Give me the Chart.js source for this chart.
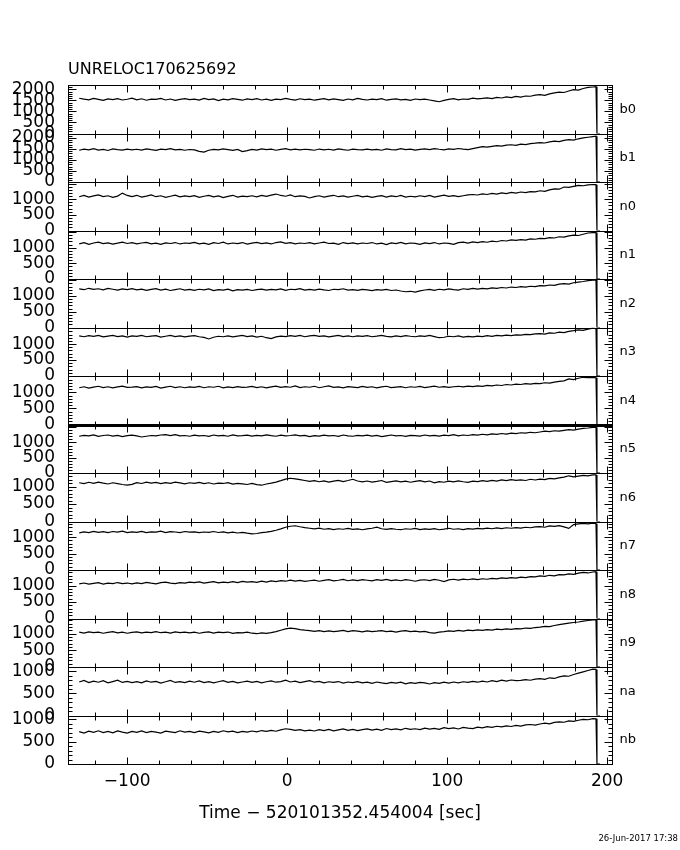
<!DOCTYPE html>
<html>
<head>
<meta charset="utf-8">
<script src="https://cdn.jsdelivr.net/npm/chart.js@4.4.0/dist/chart.umd.min.js"></script>
<style>
  html, body { margin: 0; padding: 0; background: #fff; }
  canvas { display: block; }
</style>
</head>
<body>
<canvas id="lightCurves" width="680" height="850"></canvas>
<script>
const title = "UNRELOC170625692";
const xTitle = "Time \u2212 520101352.454004 [sec]";
const stamp = "26-Jun-2017 17:38";

const detectors = ["b0", "b1", "n0", "n1", "n2", "n3", "n4", "n5", "n6", "n7", "n8", "n9", "na", "nb"];

// bin centres [sec]
const time = [
  -130, -127, -124, -121, -118, -115, -112, -109, -106, -103, -100, -97,
  -94, -91, -88, -85, -82, -79, -76, -73, -70, -67, -64, -61,
  -58, -55, -52, -49, -46, -43, -40, -37, -34, -31, -28, -25,
  -22, -19, -16, -13, -10, -7, -4, -1, 2, 5, 8, 11,
  14, 17, 20, 23, 26, 29, 32, 35, 38, 41, 44, 47,
  50, 53, 56, 59, 62, 65, 68, 71, 74, 77, 80, 83,
  86, 89, 92, 95, 98, 101, 104, 107, 110, 113, 116, 119,
  122, 125, 128, 131, 134, 137, 140, 143, 146, 149, 152, 155,
  158, 161, 164, 167, 170, 173, 176, 179, 182, 185, 188, 191,
  193, 193.6, 195.5
];

const b0 = [
  1600, 1560, 1530, 1590, 1550, 1500, 1570, 1540, 1585, 1520, 1555, 1600,
  1530, 1575, 1510, 1560, 1545, 1590, 1520, 1565, 1500, 1550, 1580, 1535,
  1560, 1515, 1590, 1540, 1570, 1495, 1555, 1525, 1580, 1545, 1510, 1570,
  1540, 1585, 1520, 1555, 1500, 1560, 1535, 1590, 1550, 1515, 1575, 1540,
  1560, 1510, 1545, 1580, 1525, 1570, 1540, 1500, 1565, 1530, 1590, 1545,
  1520, 1560, 1535, 1580, 1510, 1550, 1570, 1525, 1545, 1505, 1565, 1540,
  1555, 1520, 1480, 1440, 1500, 1545, 1580, 1530, 1565, 1550, 1600, 1570,
  1590, 1620, 1580, 1640, 1610, 1660, 1630, 1680, 1650, 1700, 1690, 1740,
  1760, 1730, 1800, 1840, 1880, 1860, 1930, 1990, 1970, 2040, 2090, 2110,
  2120, 0, 0
];
const b1 = [
  1440, 1490, 1460, 1510, 1450, 1480, 1430, 1500, 1470, 1445, 1495, 1460,
  1485, 1450, 1500, 1465, 1435, 1490, 1470, 1515, 1455, 1480, 1440, 1475,
  1460, 1390, 1360, 1440, 1480, 1455, 1500, 1470, 1435, 1480, 1380, 1420,
  1475, 1450, 1500, 1465, 1490, 1440, 1480, 1510, 1460, 1495, 1455, 1485,
  1470, 1440, 1495, 1460, 1485, 1450, 1505, 1465, 1440, 1490, 1470, 1455,
  1495, 1460, 1480, 1440, 1500, 1470, 1455, 1510, 1465, 1490, 1445, 1480,
  1500, 1470, 1515, 1485, 1460, 1505, 1480, 1520, 1490, 1465, 1510, 1560,
  1600, 1580, 1620, 1650, 1630, 1670, 1690, 1660, 1720, 1700, 1740, 1760,
  1790, 1770, 1820, 1850, 1830, 1890, 1920, 1900, 1960, 2000, 2030, 2060,
  2080, 0, 0
];
const n0 = [
  1080, 1120, 1070, 1105, 1135, 1085, 1110, 1060, 1100, 1195, 1120, 1085,
  1125, 1070, 1100, 1140, 1080, 1110, 1060, 1095, 1130, 1075, 1105, 1085,
  1115, 1060, 1095, 1120, 1075, 1105, 1050, 1090, 1125, 1070, 1100, 1080,
  1110, 1075, 1120, 1090, 1130, 1165, 1120, 1095, 1135, 1080, 1105, 1090,
  1040, 1085, 1110, 1070, 1100, 1125, 1080, 1105, 1065, 1095, 1120, 1075,
  1100, 1060, 1090, 1115, 1070, 1105, 1080, 1120, 1065, 1095, 1075, 1110,
  1085, 1120, 1070, 1100, 1130, 1090, 1115, 1080, 1110, 1140, 1150, 1135,
  1170, 1150, 1185, 1165, 1200, 1180, 1215, 1195, 1230, 1210, 1245, 1235,
  1270, 1250, 1300, 1330, 1320, 1390, 1380, 1410, 1440, 1430, 1460, 1470,
  1465, 0, 0
];
const n1 = [
  1125, 1160, 1110, 1150, 1175, 1130, 1155, 1115, 1145, 1180, 1135, 1160,
  1120, 1150, 1170, 1125, 1145, 1105, 1155, 1135, 1165, 1120, 1150, 1140,
  1170, 1125, 1145, 1110, 1160, 1135, 1175, 1120, 1150, 1130, 1165, 1115,
  1145, 1170, 1130, 1155, 1120, 1165, 1185, 1140, 1160, 1125, 1150, 1135,
  1160, 1120, 1150, 1175, 1135, 1145, 1110, 1165, 1130, 1155, 1125, 1150,
  1135, 1165, 1120, 1145, 1100, 1155, 1130, 1170, 1125, 1150, 1140, 1110,
  1155, 1130, 1165, 1120, 1150, 1140, 1105, 1160, 1180, 1150, 1185, 1165,
  1195, 1175, 1210, 1190, 1230, 1215, 1250, 1235, 1260, 1245, 1280, 1270,
  1300, 1290, 1325, 1310, 1350, 1340, 1380, 1400, 1390, 1430, 1470, 1485,
  1490, 0, 0
];
const n2 = [
  1225, 1200, 1245, 1210, 1230, 1195, 1240, 1215, 1185, 1225, 1205, 1235,
  1195, 1220, 1180, 1210, 1235, 1190, 1215, 1175, 1205, 1230, 1190, 1210,
  1180, 1215, 1195, 1225, 1170, 1205, 1190, 1215, 1165, 1200, 1185, 1210,
  1175, 1205, 1220, 1185, 1210, 1195, 1225, 1180, 1215, 1200, 1235, 1190,
  1210, 1185, 1220, 1195, 1175, 1215, 1200, 1230, 1185, 1205, 1180, 1210,
  1195, 1170, 1205, 1185, 1210, 1175, 1190, 1160, 1135, 1150, 1125, 1165,
  1190, 1210, 1180, 1215, 1195, 1225, 1200, 1185, 1230, 1210, 1245, 1220,
  1240, 1225, 1260, 1245, 1270, 1255, 1285, 1270, 1300, 1280, 1310, 1300,
  1330, 1320, 1350, 1340, 1375, 1395, 1380, 1420, 1440, 1460, 1490, 1505,
  1510, 0, 0
];
const n3 = [
  1255, 1230, 1265, 1240, 1275, 1225, 1250, 1270, 1235, 1260, 1220, 1255,
  1240, 1275, 1230, 1250, 1265, 1220, 1245, 1270, 1235, 1255, 1225, 1250,
  1265, 1230, 1210, 1160, 1215, 1245, 1230, 1260, 1225, 1250, 1270, 1235,
  1255, 1220, 1245, 1200, 1170, 1225, 1250, 1235, 1265, 1240, 1275, 1230,
  1255, 1270, 1240, 1260, 1225, 1250, 1275, 1235, 1260, 1230, 1255, 1245,
  1265, 1230, 1250, 1275, 1240, 1225, 1255, 1235, 1265, 1245, 1230, 1260,
  1240, 1270, 1235, 1200, 1215, 1245, 1230, 1255, 1220, 1240, 1225, 1250,
  1235, 1265, 1245, 1270, 1255, 1280, 1265, 1290, 1280, 1305, 1295, 1320,
  1330, 1315, 1350, 1340, 1375, 1360, 1400, 1420, 1445, 1430, 1470, 1500,
  1480, 0, 0
];
const n4 = [
  1145, 1175, 1135, 1165, 1190, 1150, 1175, 1140, 1170, 1195, 1155, 1165,
  1180, 1140, 1170, 1155, 1185, 1135, 1165, 1190, 1150, 1175, 1145, 1170,
  1155, 1185, 1145, 1175, 1160, 1190, 1140, 1170, 1150, 1180, 1155, 1165,
  1185, 1150, 1175, 1140, 1170, 1195, 1155, 1180, 1160, 1200, 1150, 1175,
  1160, 1190, 1145, 1175, 1200, 1155, 1170, 1140, 1180, 1165, 1150, 1185,
  1155, 1175, 1140, 1170, 1190, 1150, 1165, 1180, 1145, 1175, 1160, 1185,
  1150, 1170, 1195, 1160, 1180, 1155, 1175, 1190, 1170, 1195, 1180, 1205,
  1190, 1215, 1200, 1230, 1215, 1245, 1230, 1255, 1245, 1270, 1260, 1280,
  1275, 1300, 1290, 1320, 1340, 1360, 1420, 1400, 1440, 1470, 1460, 1465,
  1455, 0, 0
];
const n5 = [
  1205, 1235, 1215, 1250, 1200, 1230, 1245, 1210, 1235, 1195, 1225, 1240,
  1215, 1180, 1205, 1230, 1215, 1245, 1255, 1225, 1260, 1215, 1230, 1205,
  1240, 1215, 1230, 1200, 1245, 1220, 1235, 1205, 1250, 1215, 1225, 1240,
  1210, 1235, 1220, 1250, 1225, 1205, 1240, 1215, 1230, 1250, 1220, 1235,
  1190, 1225, 1210, 1240, 1215, 1230, 1200, 1245, 1220, 1205, 1235, 1215,
  1240, 1210, 1230, 1195, 1220, 1245, 1215, 1230, 1200, 1235, 1225, 1210,
  1245, 1220, 1235, 1210, 1240, 1225, 1255, 1215, 1245, 1230, 1260, 1240,
  1270, 1250, 1280, 1265, 1295, 1275, 1310, 1290, 1320, 1305, 1335, 1320,
  1345, 1370, 1355, 1385, 1370, 1400, 1420, 1405, 1440, 1460, 1475, 1495,
  1500, 0, 0
];
const n6 = [
  1110, 1085, 1125, 1095, 1130, 1100, 1075, 1110, 1085, 1060, 1040, 1065,
  1115, 1090, 1130, 1100, 1120, 1085, 1115, 1095, 1130, 1105, 1080, 1110,
  1095, 1120, 1085, 1110, 1075, 1100, 1090, 1115, 1070, 1095, 1080, 1060,
  1090, 1055, 1040, 1075, 1100, 1130, 1170, 1215, 1240, 1220, 1200, 1175,
  1150, 1170, 1140, 1165, 1130, 1155, 1180, 1145, 1175, 1210, 1160, 1135,
  1160, 1130, 1150, 1175, 1120, 1145, 1165, 1135, 1155, 1125, 1150, 1170,
  1135, 1160, 1110, 1145, 1125, 1155, 1135, 1165, 1140, 1120, 1155, 1145,
  1170, 1150, 1180, 1160, 1190, 1170, 1200, 1180, 1195, 1175, 1210, 1190,
  1215, 1200, 1235, 1220, 1250, 1270, 1310, 1280, 1300, 1320, 1310, 1335,
  1335, 0, 0
];
const n7 = [
  1130, 1160, 1140, 1175, 1145, 1165, 1135, 1170, 1150, 1180, 1140, 1160,
  1145, 1175, 1135, 1160, 1150, 1180, 1140, 1165, 1155, 1135, 1170, 1150,
  1160, 1135, 1155, 1145, 1170, 1140, 1160, 1130, 1150, 1125, 1145, 1120,
  1100, 1110, 1135, 1150, 1175, 1210, 1250, 1300, 1330, 1345, 1315, 1290,
  1270, 1250, 1275, 1240, 1260, 1230, 1255, 1240, 1265, 1235, 1250, 1225,
  1250, 1270, 1305, 1255, 1235, 1260, 1240, 1225, 1255, 1240, 1265, 1230,
  1250, 1235, 1260, 1225, 1245, 1270, 1240, 1255, 1230, 1260, 1245, 1265,
  1250, 1275, 1255, 1280, 1260, 1285, 1270, 1290, 1275, 1300, 1285, 1310,
  1320, 1300, 1340, 1325, 1350, 1310, 1265, 1380, 1400, 1420, 1405, 1425,
  1410, 0, 0
];
const n8 = [
  1050, 1075, 1040, 1065, 1085, 1045, 1070, 1055, 1090, 1060, 1075, 1050,
  1080, 1060, 1095, 1070, 1050, 1085, 1105, 1075, 1060, 1090, 1070, 1100,
  1085, 1110, 1070, 1095, 1120, 1080, 1105, 1090, 1115, 1085, 1125, 1100,
  1115, 1095, 1130, 1105, 1140, 1120, 1150, 1130, 1160, 1135, 1155, 1125,
  1145, 1165, 1130, 1155, 1175, 1140, 1160, 1185, 1145, 1170, 1150, 1180,
  1160, 1140, 1175, 1155, 1185, 1150, 1170, 1145, 1180, 1160, 1130, 1165,
  1175, 1150, 1185, 1160, 1120, 1170, 1190, 1165, 1195, 1175, 1200, 1180,
  1205, 1190, 1215, 1200, 1230, 1215, 1240, 1225, 1255, 1240, 1270, 1260,
  1290, 1275, 1310, 1295, 1330, 1320, 1350, 1340, 1375, 1395, 1380, 1410,
  1420, 0, 0
];
const n9 = [
  1040, 1015, 1050, 1025, 1045, 1010, 1035, 1055, 1020, 1040, 1010, 1035,
  1050, 1020, 1045, 1030, 1060, 1025, 1040, 1015, 1050, 1030, 1045, 1020,
  1040, 1010, 1035, 1050, 1015, 1040, 1025, 1045, 1005, 1030, 1020, 1040,
  1010, 995, 1020, 1005, 1030, 1060, 1100, 1140, 1160, 1145, 1120, 1100,
  1085, 1065, 1090, 1060, 1080, 1055, 1075, 1095, 1060, 1085, 1070, 1050,
  1080, 1055, 1070, 1090, 1060, 1075, 1045, 1070, 1085, 1055, 1075, 1050,
  1065, 1030, 1015, 1045, 1060, 1080, 1065, 1095, 1075, 1105, 1085, 1110,
  1095, 1120, 1105, 1130, 1115, 1140, 1125, 1150, 1140, 1165, 1155, 1180,
  1195, 1215, 1205, 1240, 1265, 1290, 1310, 1330, 1345, 1370, 1390, 1405,
  1410, 0, 0
];
const na = [
  760, 795, 745, 780, 755, 790, 740, 770, 800, 750, 775, 745,
  770, 740, 785, 755, 775, 735, 765, 795, 750, 770, 745, 780,
  755, 785, 745, 770, 740, 765, 790, 750, 775, 740, 760, 780,
  750, 775, 740, 765, 785, 755, 770, 800, 760, 780, 745, 770,
  790, 755, 775, 740, 765, 750, 770, 735, 760, 745, 770, 740,
  755, 730, 760, 740, 725, 750, 735, 755, 720, 745, 730, 750,
  740, 715, 745, 730, 755, 735, 760, 740, 765, 750, 775, 755,
  780, 760, 790, 770, 800, 780, 805, 790, 795, 815, 800, 825,
  835, 820, 855, 840, 875, 900, 890, 930, 960, 990, 1020, 1050,
  1045, 0, 0
];
const nb = [
  720, 690, 730, 705, 740, 700, 725, 695, 735, 710, 690, 725,
  705, 735, 700, 725, 710, 690, 730, 715, 700, 740, 710, 725,
  700, 730, 715, 695, 725, 705, 740, 715, 730, 700, 725, 710,
  735, 715, 745, 725, 750, 730, 760, 785, 770, 750, 765, 740,
  755, 735, 765, 745, 770, 740, 760, 780, 750, 770, 745, 765,
  780, 755, 775, 750, 790, 765, 780, 760, 795, 770, 785, 765,
  800, 775, 795, 770, 810, 790, 805, 780, 815, 800, 790, 820,
  805, 830, 815, 840, 825, 850, 835, 860, 845, 870, 880, 865,
  890, 910, 895, 925, 940, 930, 960, 950, 975, 995, 985, 1010,
  1005, 0, 0
];

const series = [b0, b1, n0, n1, n2, n3, n4, n5, n6, n7, n8, n9, na, nb];

// axis ranges and tick labels
const yMax = [2200, 2200, 1550, 1550, 1540, 1520, 1510, 1590, 1390, 1475, 1470, 1450, 1100, 1080];
const yTicksBgo = [0, 500, 1000, 1500, 2000];
const yTicksNai = [0, 500, 1000];
const xMin = -137;
const xMax = 203;
const xTicks = [-100, 0, 100, 200];
const xTickLabels = ["\u2212100", "0", "100", "200"];

Chart.defaults.font.family = "'DejaVu Sans', sans-serif";
Chart.defaults.color = "#000";

const scales = {
  x: {
    type: "linear",
    position: "bottom",
    min: xMin,
    max: xMax,
    grid: { display: false, drawTicks: false },
    border: { display: false },
    ticks: {
      autoSkip: false,
      maxRotation: 0,
      padding: 7,
      font: { size: 17 },
      callback: (v) => xTickLabels[xTicks.indexOf(v)],
    },
    afterBuildTicks: (s) => {
      s.ticks = xTicks.map((v) => ({ value: v }));
    },
    afterFit: (s) => {
      s.height = 86;
    },
  },
};

// last one defined ends up on top of the stack
for (let k = detectors.length - 1; k >= 0; k--) {
  const tickList = k < 2 ? yTicksBgo : yTicksNai;
  scales["y" + k] = {
    type: "linear",
    position: "left",
    stack: "panels",
    stackWeight: 1,
    min: 0,
    max: yMax[k],
    grid: { display: false, drawTicks: false },
    border: { display: false },
    ticks: {
      autoSkip: false,
      padding: 13,
      font: { size: 17 },
      callback: (v) => String(v),
    },
    afterBuildTicks: (s) => {
      s.ticks = tickList.map((v) => ({ value: v }));
    },
    afterFit: (s) => {
      s.width = 60;
    },
  };
}

const panelFrames = {
  id: "panelFrames",
  afterDatasetsDraw(chart) {
    const ctx = chart.ctx;
    const { left, right } = chart.chartArea;
    const xs = chart.scales.x;
    const l = Math.round(left) + 0.5;
    const r = Math.round(right) + 0.5;
    ctx.save();
    ctx.strokeStyle = "#000";
    ctx.fillStyle = "#000";
    detectors.forEach((name, k) => {
      const ys = chart.scales["y" + k];
      const top = Math.round(ys.top) + 0.5;
      const bottom = Math.round(ys.bottom) + 0.5;
      ctx.lineWidth = 1;
      ctx.strokeRect(l, top, r - l, bottom - top);

      ctx.beginPath();
      for (let v = 0; v <= ys.max; v += 100) {
        const y = Math.round(ys.getPixelForValue(v)) + 0.5;
        const len = v % 500 === 0 ? 8 : 4;
        ctx.moveTo(l, y);
        ctx.lineTo(l + len, y);
        ctx.moveTo(r, y);
        ctx.lineTo(r - len, y);
      }
      for (let t = -120; t <= xs.max; t += 20) {
        const x = Math.round(xs.getPixelForValue(t)) + 0.5;
        const len = t % 100 === 0 ? 7 : 4;
        ctx.moveTo(x, top);
        ctx.lineTo(x, top + len);
        ctx.moveTo(x, bottom);
        ctx.lineTo(x, bottom - len);
      }
      ctx.stroke();

      if (name === "n5") {
        ctx.lineWidth = 3;
        ctx.beginPath();
        ctx.moveTo(l, top);
        ctx.lineTo(r, top);
        ctx.stroke();
      }

      ctx.font = "13px 'DejaVu Sans'";
      ctx.textAlign = "left";
      ctx.textBaseline = "middle";
      ctx.fillText(name, r + 7, (ys.top + ys.bottom) / 2);
    });

    ctx.textBaseline = "alphabetic";
    ctx.font = "16px 'DejaVu Sans'";
    ctx.fillText(title, 68, 74);

    ctx.font = "17px 'DejaVu Sans'";
    ctx.textAlign = "center";
    ctx.fillText(xTitle, 340, 818);

    ctx.font = "8.5px 'DejaVu Sans'";
    ctx.textAlign = "right";
    ctx.fillText(stamp, 678, 841);
    ctx.restore();
  },
};

new Chart(document.getElementById("lightCurves").getContext("2d"), {
  type: "line",
  data: {
    datasets: detectors.map((name, k) => ({
      label: name,
      data: time.map((t, i) => ({ x: t, y: series[k][i] })),
      yAxisID: "y" + k,
      xAxisID: "x",
      borderColor: "#000",
      borderWidth: 1.2,
      pointRadius: 0,
      tension: 0,
      fill: false,
    })),
  },
  options: {
    responsive: false,
    devicePixelRatio: 1,
    animation: false,
    layout: {
      padding: { left: 8, right: 68, top: 85, bottom: 0 },
    },
    plugins: {
      legend: { display: false },
      tooltip: { enabled: false },
    },
    scales: scales,
  },
  plugins: [panelFrames],
});
</script>
</body>
</html>
